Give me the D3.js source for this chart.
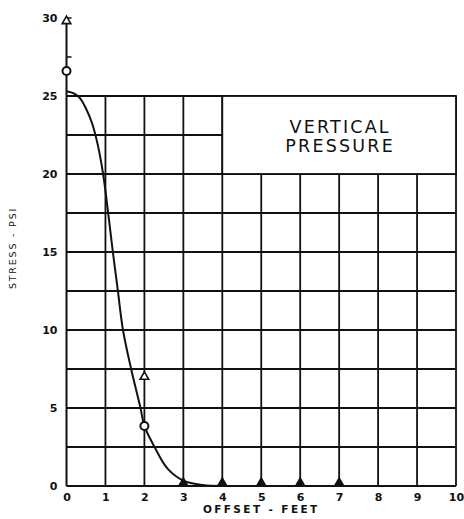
<!DOCTYPE html>
<html><head><meta charset="utf-8">
<script src="https://cdn.jsdelivr.net/npm/d3@7"></script>
<style>body{margin:0;background:#fff}</style>
</head><body>
<svg id="c" width="464" height="519"></svg>
<script>
const xTicks = [0,1,2,3,4,5,6,7,8,9,10];
const yTicks = [0,5,10,15,20,25,30];
const gridY = [0,2.5,5,7.5,10,12.5,15,17.5,20,22.5,25];
const curveX = [0,0.2,0.35,0.5,0.65,0.8,0.94,1.07,1.19,1.32,1.45,1.66,1.9,2,2.26,2.6,3,3.5,4];
const curveY = [25.3,25.15,24.85,24.2,23.3,21.9,20,17.5,15,12.5,10,7.5,5,3.85,2.5,1.1,0.35,0.06,0];
const triX = [0,2], triY = [29.8,7];
const circX = [0,2], circY = [26.6,3.85];
const solidX = [3,4,5,6,7], solidY = [0,0,0,0,0];
const titleLines = ["VERTICAL","PRESSURE"];

const svg = d3.select("#c");
const x = d3.scaleLinear().domain([0,10]).range([66.5,456]);
const y = d3.scaleLinear().domain([0,30]).range([486,18]);
const ink = "#111";
const g = svg.append("g");

gridY.forEach(v => {
  const x2 = (v > 20 && v < 25) ? x(4) : x(10);
  g.append("line").attr("x1",x(0)).attr("x2",x2).attr("y1",y(v)).attr("y2",y(v))
   .attr("stroke",ink).attr("stroke-width",1.8);
});
xTicks.forEach(v => {
  if (v === 0) return;
  const top = (v > 4 && v < 10) ? y(20) : y(25);
  g.append("line").attr("x1",x(v)).attr("x2",x(v)).attr("y1",y(0)).attr("y2",top)
   .attr("stroke",ink).attr("stroke-width",1.8);
});
g.append("line").attr("x1",x(0)).attr("x2",x(0)).attr("y1",y(0)).attr("y2",y(30))
 .attr("stroke",ink).attr("stroke-width",2);
[27.5,30].forEach(v => {
  g.append("line").attr("x1",x(0)).attr("x2",x(0)+5).attr("y1",y(v)).attr("y2",y(v))
   .attr("stroke",ink).attr("stroke-width",1.5);
});

const xAxis = d3.axisBottom(x).tickValues(xTicks).tickSize(0).tickPadding(7);
const xa = svg.append("g").attr("transform",`translate(0,${y(0)})`).call(xAxis);
xa.select(".domain").remove();
xa.selectAll("text").attr("font-family","DejaVu Sans").attr("font-weight","bold")
  .attr("font-size",11).attr("fill",ink);
const yAxis = d3.axisLeft(y).tickValues(yTicks).tickSize(0).tickPadding(9);
const ya = svg.append("g").attr("transform",`translate(${x(0)},0)`).call(yAxis);
ya.select(".domain").remove();
ya.selectAll("text").attr("font-family","DejaVu Sans").attr("font-weight","bold")
  .attr("font-size",11).attr("fill",ink);

svg.append("rect").attr("x",x(4)).attr("y",y(25)).attr("width",x(10)-x(4)).attr("height",y(20)-y(25))
 .attr("fill","#fff").attr("stroke",ink).attr("stroke-width",1.8);
titleLines.forEach((t,i) => {
  svg.append("text").attr("x",(x(4)+x(10))/2+1).attr("y",y(25)+37+i*19)
   .attr("text-anchor","middle").attr("font-family","DejaVu Sans").attr("font-size",17.5)
   .attr("letter-spacing",2.2).attr("fill",ink).text(t);
});

const pts = curveX.map((v,i)=>[v,curveY[i]]);
svg.append("path").datum(pts)
 .attr("d", d3.line().x(d=>x(d[0])).y(d=>y(d[1])).curve(d3.curveCatmullRom.alpha(0.5)))
 .attr("fill","none").attr("stroke",ink).attr("stroke-width",2);

const triSym = d3.symbol().type(d3.symbolTriangle).size(32);
triX.forEach((v,i)=>{
  svg.append("path").attr("d",triSym()).attr("transform",`translate(${x(v)},${y(triY[i])})`)
   .attr("fill","#fff").attr("stroke",ink).attr("stroke-width",1.6);
});
circX.forEach((v,i)=>{
  svg.append("circle").attr("cx",x(v)).attr("cy",y(circY[i])).attr("r",4)
   .attr("fill","#fff").attr("stroke",ink).attr("stroke-width",2);
});
const solidSym = d3.symbol().type(d3.symbolTriangle).size(55);
solidX.forEach((v,i)=>{
  svg.append("path").attr("d",solidSym()).attr("transform",`translate(${x(v)},${y(solidY[i])-3})`)
   .attr("fill",ink);
});

svg.append("text").attr("x",(x(0)+x(10))/2).attr("y",513).attr("text-anchor","middle")
 .attr("font-family","DejaVu Sans").attr("font-weight","bold").attr("font-size",10.5)
 .attr("letter-spacing",2.4).attr("fill",ink).text("OFFSET  -  FEET");
svg.append("text").attr("transform",`translate(16,248) rotate(-90)`).attr("text-anchor","middle")
 .attr("font-family","DejaVu Sans").attr("font-size",9.5)
 .attr("letter-spacing",1.8).attr("fill",ink).text("STRESS - PSI");
</script>
</body></html>
